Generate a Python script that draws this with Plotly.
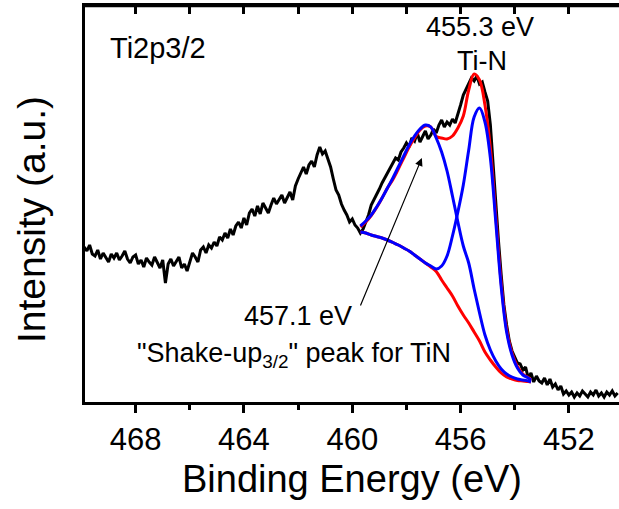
import plotly.graph_objects as go

# ---- measured spectrum (binding energy, eV; intensity, a.u.) ----
energy = [round(470.0 - 0.1 * i, 1) for i in range(199)]
intensity = [
    148, 156, 152, 158, 149, 147, 153, 144, 150, 146,   # 470.0-469.1
    141, 149, 145, 150, 143, 147, 152, 144, 140, 146,   # 469.0-468.1
    148, 139, 143, 136, 145, 141, 138, 146, 140, 135,   # 468.0-467.1
    143, 120, 139, 144, 137, 141, 146, 135, 139, 132,   # 467.0-466.1
    142, 150, 146, 141, 153, 156, 150, 158, 155, 161,   # 466.0-465.1
    157, 166, 163, 170, 165, 174, 168, 177, 181, 175,   # 465.0-464.1
    185, 178, 190, 194, 187, 197, 189, 200, 195, 190,   # 464.0-463.1
    198, 205, 199, 203, 208, 200, 206, 211, 203, 217,   # 463.0-462.1
    224, 230, 236, 229, 238, 242, 236, 248, 256, 249,   # 462.0-461.1
    252, 244, 236, 224, 213, 208, 199, 193, 188, 181,   # 461.0-460.1
    184, 178, 175, 170, 174, 181, 188, 198, 203, 209,   # 460.0-459.1
    214, 220, 225, 231, 236, 240, 245, 243, 251, 255,   # 459.0-458.1
    260, 256, 265, 262, 270, 261, 266, 272, 264, 268,   # 458.0-457.1
    274, 270, 278, 283, 276, 281, 278, 284, 280, 288,   # 457.0-456.1
    298, 308, 314, 319, 325, 322, 327, 319, 321, 311,   # 456.0-455.1
    302, 278, 236, 200, 162, 128, 98, 78, 62, 52,       # 455.0-454.1
    46, 40, 39, 33, 36, 25, 30, 21, 27, 22,             # 454.0-453.1
    20, 25, 18, 24, 16, 19, 13, 17, 9, 12,              # 453.0-452.1
    8, 11, 6, 10, 7, 12, 9, 6, 11, 8,                   # 452.0-451.1
    13, 7, 10, 6, 11, 8, 12, 7, 10,                     # 451.0-450.2
]

# ---- peak fit ----
fit_energy = [459.7, 459.5, 459.3, 459.1, 458.9, 458.7, 458.5, 458.3, 458.1,
              457.9, 457.7, 457.5, 457.3, 457.1, 456.9, 456.7, 456.5, 456.3,
              456.1, 455.9, 455.7, 455.5, 455.3, 455.1, 454.9, 454.7, 454.5,
              454.3, 454.1, 453.9, 453.7, 453.5, 453.4]
background = [171, 170, 168, 166.5, 165, 163, 160.5, 158, 155, 152, 148, 144,
              140, 136, 131.5, 123, 115, 107, 97, 88, 80, 71, 62, 51, 43, 36,
              30, 26, 24, 22.5, 22, 21.5, 21]
shakeup_peak = [177, 182, 188, 196, 205, 215, 225, 236, 247, 258, 267, 274,
                278, 276, 265, 251, 232, 207, 181, 157, 140, 114, 90, 68, 53,
                42, 34, 29, 26, 24, 23, 22, 21]
tin_peak = [171, 170, 168, 166.5, 165, 163, 160.5, 158, 155, 152, 148, 144,
            140, 137, 134, 137, 147, 167, 191, 218, 253, 286, 295, 281, 245,
            181, 116, 71, 48, 35, 28, 25, 23]
envelope = [176, 181, 187.5, 195.5, 205, 215, 223.5, 234, 245, 256, 265, 273,
            277, 276, 266.5, 265, 264, 267, 275, 287, 313, 329, 323, 298, 255,
            187, 120, 74, 50, 36.5, 29, 25.5, 23]

x_range = [469.87, 450.15]
y_range = [1, 397]
FONT = "Liberation Sans, Arial, sans-serif"

fig = go.Figure()
fig.add_trace(go.Scatter(x=energy, y=intensity, mode="lines",
                         line=dict(color="black", width=3), showlegend=False))
fig.add_trace(go.Scatter(x=fit_energy, y=background, mode="lines",
                         line=dict(color="#ff0000", width=3, shape="spline"),
                         showlegend=False))
fig.add_trace(go.Scatter(x=fit_energy, y=envelope, mode="lines",
                         line=dict(color="#ff0000", width=3, shape="spline"),
                         showlegend=False))
fig.add_trace(go.Scatter(x=fit_energy, y=shakeup_peak, mode="lines",
                         line=dict(color="#0000ff", width=3, shape="spline"),
                         showlegend=False))
fig.add_trace(go.Scatter(x=fit_energy, y=tin_peak, mode="lines",
                         line=dict(color="#0000ff", width=3, shape="spline"),
                         showlegend=False))
# invisible helper trace so that the top (inside-tick) axis exists
fig.add_trace(go.Scatter(x=energy, y=intensity, mode="lines", xaxis="x2",
                         line=dict(color="rgba(0,0,0,0)", width=1),
                         showlegend=False, hoverinfo="skip"))

fig.update_layout(
    width=619, height=509,
    margin=dict(l=85, r=0, t=6, b=107),
    plot_bgcolor="white", paper_bgcolor="white",
    font=dict(family=FONT, color="black"),
    xaxis=dict(
        range=x_range, showgrid=False, zeroline=False,
        showline=True, linecolor="black", linewidth=2.5, mirror=True,
        ticks="outside", ticklen=8, tickwidth=3, tickcolor="black",
        tick0=452, dtick=4, tickfont=dict(size=31, family=FONT),
        minor=dict(ticks="outside", ticklen=5, tickwidth=3,
                   tickcolor="black", dtick=2),
        title=dict(text="Binding Energy (eV)", font=dict(size=38, family=FONT),
                   standoff=10),
    ),
    xaxis2=dict(
        overlaying="x", side="top", anchor="y", range=x_range,
        showgrid=False, zeroline=False, showline=True, linecolor="black",
        linewidth=2.5, ticks="inside", ticklen=8, tickwidth=3,
        tickcolor="black", dtick=2, showticklabels=False,
    ),
    yaxis=dict(
        range=y_range, showgrid=False, zeroline=False, showline=True,
        linecolor="black", linewidth=2.5, ticks="", showticklabels=False,
    ),
)

# frame line along the top edge of the plotting area (styling only)
fig.add_shape(type="line", xref="paper", yref="paper", x0=0, x1=1, y0=1, y1=1,
              line=dict(color="black", width=2.5), layer="above")

fig.add_annotation(x=0, y=0.4596, xref="paper", yref="paper", xshift=-53,
                   text="Intensity (a.u.)", textangle=-90, showarrow=False,
                   xanchor="center", yanchor="middle",
                   font=dict(size=39, family=FONT))
fig.add_annotation(x=0.0427, y=0.894, xref="paper", yref="paper",
                   text="Ti2p3/2", showarrow=False, xanchor="left",
                   yanchor="middle", font=dict(size=29, family=FONT))
fig.add_annotation(x=455.3, y=376, xref="x", yref="y", text="455.3 eV",
                   showarrow=False, font=dict(size=27, family=FONT))
fig.add_annotation(x=455.2, y=342, xref="x", yref="y", text="Ti-N",
                   showarrow=False, font=dict(size=27, family=FONT))
fig.add_annotation(x=462.0, y=87, xref="x", yref="y", text="457.1 eV",
                   showarrow=False, font=dict(size=27, family=FONT))
fig.add_annotation(x=462.15, y=48, xref="x", yref="y",
                   text='"Shake-up<sub>3/2</sub>" peak for TiN',
                   showarrow=False, font=dict(size=27, family=FONT))
fig.add_annotation(x=457.43, y=245, ax=459.72, ay=96, xref="x", yref="y",
                   axref="x", ayref="y", text="", showarrow=True,
                   arrowhead=2, arrowsize=1.3, arrowwidth=1.2, arrowcolor="black")

fig.write_html("out.html")
